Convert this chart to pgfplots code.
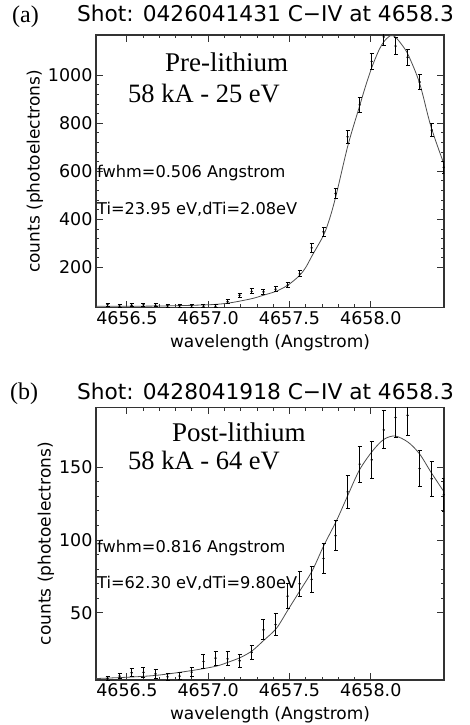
\documentclass[border=0pt]{standalone}
\usepackage{fontspec}
\setmainfont{DejaVu Sans}
\newfontfamily\timesf{Liberation Serif}
\usepackage{pgfplots}
\usepackage{pgfplotstable}
\pgfplotsset{compat=1.18}

\pgfplotstableread{
x y e
4656.381 45 6
4656.455 39 6
4656.529 42 6
4656.602 44 6
4656.676 42 6
4656.750 40 6
4656.824 40 6
4656.898 40 6
4656.971 38 6
4657.045 38 6
4657.119 57 8
4657.193 84 9
4657.267 100 10
4657.340 98 10
4657.414 109 10
4657.488 126 11
4657.562 173 13
4657.636 281 17
4657.709 348 19
4657.783 508 22
4657.857 744 27
4657.931 877 30
4658.005 1058 32
4658.079 1160 34
4658.152 1122 34
4658.226 1075 33
4658.300 972 31
4658.374 772 28
4658.448 617 25
}\dataA

\pgfplotstableread{
x y
4656.31 38
4656.50 38
4656.70 39
4656.90 42
4657.05 46
4657.15 54
4657.27 70
4657.34 84
4657.42 101
4657.49 126
4657.56 165
4657.60 200
4657.64 250
4657.71 335
4657.75 410
4657.79 510
4657.86 710
4657.93 870
4657.97 960
4658.01 1040
4658.05 1105
4658.08 1140
4658.12 1165
4658.15 1160
4658.19 1128
4658.23 1085
4658.30 967
4658.37 786
4658.45 630
}\fitA

\pgfplotstableread{
x y e
4656.381 5.1 1.2
4656.455 6.7 1.8
4656.529 9.0 2.9
4656.602 9.2 3.3
4656.676 8.2 3.0
4656.750 6.2 2.5
4656.824 6.7 2.6
4656.898 9.4 3.0
4656.971 16.7 4.5
4657.045 19.0 4.8
4657.119 18.5 4.8
4657.193 17.2 4.6
4657.267 23.0 5.0
4657.340 38.4 6.8
4657.414 42.0 7.4
4657.488 61.5 8.6
4657.562 70.0 8.6
4657.636 73.0 8.8
4657.709 87.3 10.3
4657.783 103.0 10.5
4657.857 133.0 11.5
4657.931 152.0 12.3
4658.005 155.0 12.5
4658.079 175.5 13.0
4658.152 184.0 13.5
4658.226 185.5 13.5
4658.300 149.0 12.2
4658.374 142.0 12.0
4658.448 131.0 11.5
}\dataB

\pgfplotstableread{
x y
4656.31 5
4656.52 6
4656.69 7.3
4656.90 10.5
4657.05 13.5
4657.13 16.5
4657.20 19.5
4657.27 24
4657.34 31
4657.42 39.5
4657.49 52
4657.56 64.5
4657.64 79
4657.71 96
4657.79 113.5
4657.86 131
4657.93 148
4658.01 161
4658.08 169
4658.15 171.3
4658.23 167
4658.30 159
4658.37 146.5
4658.45 133
}\fitB

\pgfplotsset{
  idl/.style={
    scale only axis, width=348bp, height=272.7bp,
    anchor=south west,
    xmin=4656.31, xmax=4658.45,
    xtick={4656.5,4657,4657.5,4658},
    xticklabels={4656.5,4657.0,4657.5,4658.0},
    minor x tick num=4, minor y tick num=4,
    major tick length=7bp, minor tick length=3.5bp,
    axis line style={line width=1.1bp, color=black!80},
    every tick/.style={line width=0.9bp, black!80},
    tick label style={font=\fontsize{17.5bp}{20bp}\selectfont},
    label style={font=\fontsize{17bp}{20bp}\selectfont},
    /pgf/number format/assume math mode=true,
    /pgf/number format/1000 sep={},
    xlabel={wavelength (Angstrom)},
    ylabel={counts (photoelectrons)},
    xlabel style={yshift=-3bp},
    ylabel style={yshift=-2bp},
  },
  fitline/.style={smooth, tension=0.5, color=black!70, line width=0.8bp, no marks},
  pts/.style={only marks, mark=*, mark size=0.9bp, black,
    error bars/.cd, y dir=both, y explicit,
    error bar style={line width=1.4bp, black},
    error mark options={rotate=90, mark size=2bp, line width=1bp, black}},
}

\begin{document}
\begin{tikzpicture}
\useasboundingbox (0,0) rectangle (470bp,725bp);

\begin{axis}[idl, at={(96bp,417.3bp)},
  ymin=32, ymax=1168, ytick={200,400,600,800,1000}]
\addplot[fitline] table[x=x,y=y] {\fitA};
\addplot[pts] table[x=x,y=y,y error=e] {\dataA};
\end{axis}

\begin{axis}[idl, at={(96bp,45bp)},
  ymin=4, ymax=191, ytick={50,100,150}]
\addplot[fitline] table[x=x,y=y] {\fitB};
\addplot[pts] table[x=x,y=y,y error=e] {\dataB};
\end{axis}

% panel (a) texts
\node[anchor=base west, inner sep=0, font=\timesf\fontsize{24bp}{24bp}\selectfont] at (12bp,702bp) {(a)};
\node[anchor=base, inner sep=0, font=\fontsize{21.7bp}{22bp}\selectfont] at (265.5bp,703.3bp) {Shot: 0426041431 C−IV at 4658.3};
\node[anchor=base west, inner sep=0, font=\timesf\fontsize{27bp}{27bp}\selectfont] at (165bp,653bp) {Pre-lithium};
\node[anchor=base west, inner sep=0, font=\timesf\fontsize{26.5bp}{27bp}\selectfont] at (128bp,622bp) {58 kA - 25 eV};
\node[anchor=base west, inner sep=0, font=\fontsize{16.2bp}{17bp}\selectfont] at (97bp,547.5bp) {fwhm=0.506 Angstrom};
\node[anchor=base west, inner sep=0, font=\fontsize{16.2bp}{17bp}\selectfont] at (97bp,510bp) {Ti=23.95 eV,dTi=2.08eV};

% panel (b) texts
\node[anchor=base west, inner sep=0, font=\timesf\fontsize{24bp}{24bp}\selectfont] at (10bp,325bp) {(b)};
\node[anchor=base, inner sep=0, font=\fontsize{21.7bp}{22bp}\selectfont] at (265.5bp,325.7bp) {Shot: 0428041918 C−IV at 4658.3};
\node[anchor=base west, inner sep=0, font=\timesf\fontsize{27bp}{27bp}\selectfont] at (172bp,283.3bp) {Post-lithium};
\node[anchor=base west, inner sep=0, font=\timesf\fontsize{26.5bp}{27bp}\selectfont] at (128bp,255bp) {58 kA - 64 eV};
\node[anchor=base west, inner sep=0, font=\fontsize{16.2bp}{17bp}\selectfont] at (97bp,172bp) {fwhm=0.816 Angstrom};
\node[anchor=base west, inner sep=0, font=\fontsize{16.2bp}{17bp}\selectfont] at (97bp,136bp) {Ti=62.30 eV,dTi=9.80eV};
\end{tikzpicture}
\end{document}
